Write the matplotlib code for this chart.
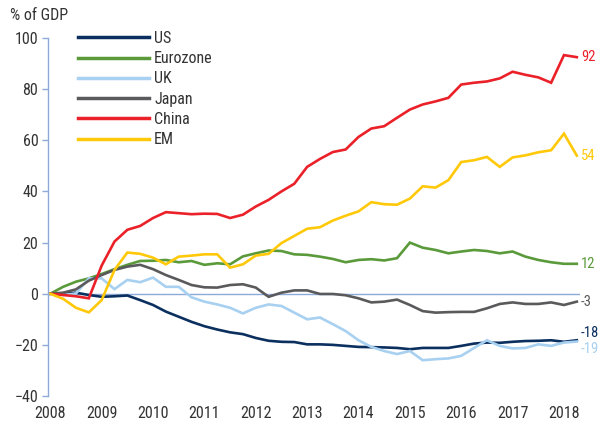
import matplotlib
matplotlib.use("Agg")
import matplotlib.pyplot as plt
import numpy as np

plt.rcParams['font.family'] = ['Roboto Condensed', 'DejaVu Sans']
plt.rcParams['font.weight'] = 'normal'

start_year = 2008
quarters = np.arange(42)

us = [0, 0, 0.4, -0.5, -1.2, -1.0, -0.7, -2.5, -4.4, -7.0, -9.0, -11.0, -12.7, -14.0,
      -15.1, -15.8, -17.3, -18.4, -18.8, -18.9, -19.8, -19.8, -20.0, -20.4, -20.8, -20.9,
      -21.0, -21.2, -21.7, -21.2, -21.2, -21.2, -20.4, -19.5, -19.1, -19.2, -18.8, -18.5,
      -18.4, -18.2, -18.8, -18.2]
eurozone = [0, 2.7, 4.7, 6.0, 7.7, 9.6, 11.3, 12.8, 12.9, 13.2, 12.3, 12.8, 11.3, 11.9,
            11.5, 14.6, 15.8, 16.9, 16.7, 15.4, 15.2, 14.5, 13.6, 12.3, 13.2, 13.5,
            13.0, 13.9, 20.0, 18.0, 17.1, 15.8, 16.5, 17.1, 16.7, 15.8, 16.5, 14.5,
            13.2, 12.3, 11.7, 11.7]
uk = [0, -0.5, 0.1, 6.0, 6.0, 1.8, 5.4, 4.5, 6.3, 2.7, 2.7, -1.4, -3.1, -4.2,
      -5.5, -7.7, -5.5, -4.2, -4.8, -7.4, -10.0, -9.3, -11.9, -14.6, -18.2, -20.8,
      -22.4, -23.6, -22.4, -26.0, -25.6, -25.3, -24.3, -21.2, -18.2, -20.4, -21.4, -21.2,
      -19.8, -20.4, -19.1, -18.7]
japan = [0, 0.4, 1.7, 5.1, 7.3, 9.3, 10.6, 11.3, 9.6, 7.3, 5.4, 3.4, 2.5, 2.4,
         3.4, 3.7, 2.4, -1.2, 0.4, 1.3, 1.3, -0.1, -0.1, -0.6, -1.8, -3.4,
         -3.1, -2.3, -4.4, -6.8, -7.4, -7.2, -7.1, -7.1, -5.7, -4.0, -3.4, -4.0,
         -4.0, -3.4, -4.4, -3.1]
china = [0, -0.5, -1.0, -1.8, 11.0, 20.4, 25.0, 26.5, 29.6, 31.9, 31.5, 31.1, 31.3, 31.2,
         29.6, 30.9, 34.1, 36.7, 40.0, 43.0, 49.6, 52.7, 55.4, 56.4, 61.3, 64.6,
         65.5, 68.8, 72.0, 74.0, 75.2, 76.6, 81.8, 82.5, 83.0, 84.2, 86.8, 85.6,
         84.6, 82.5, 93.3, 92.5]
em = [0, -2.0, -5.5, -7.3, -2.5, 9.3, 16.1, 15.6, 14.1, 11.5, 14.5, 14.9, 15.4, 15.4,
      10.2, 11.5, 14.9, 15.6, 19.8, 22.6, 25.4, 26.0, 28.6, 30.5, 32.2, 35.8,
      35.0, 34.8, 37.2, 42.0, 41.5, 44.4, 51.5, 52.2, 53.5, 49.6, 53.3, 54.1,
      55.3, 56.1, 62.6, 54.0]

series_names = ["US", "Eurozone", "UK", "Japan", "China", "EM"]
series_values = [us, eurozone, uk, japan, china, em]
colors = ["#0b2f5e", "#5a9a3a", "#a8d0f0", "#5a5a5c", "#ea2129", "#ffc90a"]
end_labels = ["-18", "12", "-19", "-3", "92", "54"]
label_offsets = [5.5, 0, -5.5, 0, 0, 0]

y_ticks = [-40, -20, 0, 20, 40, 60, 80, 100]
x_ticks = list(range(2008, 2019))

axis_color = "#8eaad8"
text_color = "#333333"
fs = 11.5

fig = plt.figure(figsize=(5.99, 4.23), dpi=100)
ax = fig.add_axes([0.0801, 0.0638, 0.888, 0.8464])

x = start_year + quarters / 4.0
for name, vals, c in zip(series_names, series_values, colors):
    ax.plot(x, vals, color=c, lw=1.9, label=name, solid_joinstyle='miter')

ax.axhline(0, color=axis_color, lw=1.0, zorder=0)

for vals, c, lab, off in zip(series_values, colors, end_labels, label_offsets):
    ax.annotate(lab, xy=(x[-1], vals[-1]), xytext=(3, off), textcoords='offset points',
                color=c, fontsize=10.5, va='center', ha='left', annotation_clip=False)

ax.set_xlim(2007.955, 2018.31)
ax.set_ylim(-40, 100)
ax.set_yticks(y_ticks)
ax.set_xticks(x_ticks)
ax.set_xticklabels([str(t) for t in x_ticks])
for s in ["top", "right", "bottom"]:
    ax.spines[s].set_visible(False)
ax.spines["left"].set_color(axis_color)
ax.spines["left"].set_linewidth(1.0)
ax.tick_params(axis='y', colors=axis_color, labelcolor=text_color, length=4, width=1.0,
               labelsize=fs, pad=3)
ax.tick_params(axis='x', length=0, labelcolor=text_color, labelsize=fs, pad=7)

fig.text(10 / 599, 1 - 15 / 423, "% of GDP", fontsize=fs, color=text_color,
         ha='left', va='center')

leg = ax.legend(loc='upper left', bbox_to_anchor=(0.03, 1.06), frameon=False,
                handlelength=4.4, handletextpad=0.35, labelspacing=0.33, fontsize=fs)
for t in leg.get_texts():
    t.set_color(text_color)
for l in leg.get_lines():
    l.set_linewidth(2.5)

fig.savefig("out.png", dpi=100)
